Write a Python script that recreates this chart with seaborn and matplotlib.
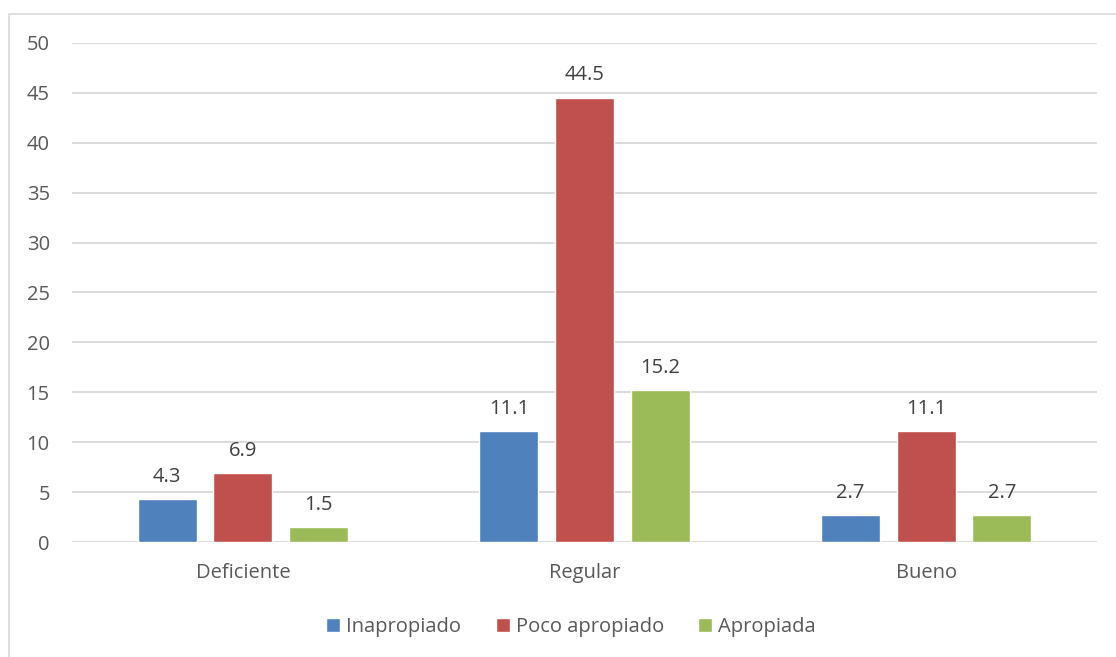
import pandas as pd
import matplotlib
matplotlib.use('Agg')
import matplotlib.pyplot as plt
import seaborn as sns
from matplotlib.patches import Rectangle

# Data
categories = ['Deficiente', 'Regular', 'Bueno']
series = ['Inapropiado', 'Poco apropiado', 'Apropiada']
inapropiado = [4.3, 11.1, 2.7]
poco_apropiado = [6.9, 44.5, 11.1]
apropiada = [1.5, 15.2, 2.7]

colors = ['#4F81BD', '#C0504D', '#9BBB59']
text_color = '#595959'

df = pd.DataFrame({
    'categoria': categories * 3,
    'serie': [s for s in series for _ in categories],
    'valor': inapropiado + poco_apropiado + apropiada,
})

sns.set_theme(style='white')
plt.rcParams['font.family'] = ['Open Sans', 'DejaVu Sans']

fig = plt.figure(figsize=(11.16, 6.57), dpi=100)
ax = fig.add_axes([0.0645, 0.175, 0.9185, 0.7596])

sns.barplot(data=df, x='categoria', y='valor', hue='serie', order=categories,
            hue_order=series, palette=colors, width=0.664, gap=0.218,
            saturation=1, ax=ax, legend=True)

for cont in ax.containers:
    ax.bar_label(cont, labels=[f'{v:.1f}' for v in cont.datavalues],
                 padding=9, fontsize=14.5, color='#404040')

ax.set_ylim(0, 50)
ax.set_yticks(range(0, 51, 5))
ax.set_xlim(-0.5, 2.5)
ax.grid(axis='y', color='#D9D9D9', linewidth=1.3)
ax.set_axisbelow(True)
for s in ax.spines.values():
    s.set_visible(False)
ax.tick_params(axis='both', length=0, labelsize=14.5, labelcolor=text_color)
ax.tick_params(axis='y', pad=16)
ax.tick_params(axis='x', pad=15)
ax.set_xlabel('')
ax.set_ylabel('')

handles, labels = ax.get_legend_handles_labels()
ax.legend(handles, labels, loc='center', bbox_to_anchor=(0.487, -0.171),
          ncol=3, frameon=False, fontsize=14.5, handlelength=0.7,
          handleheight=0.7, handletextpad=0.3, columnspacing=1.7,
          labelcolor=text_color)

# chart border (Excel-style frame)
fig.patches.append(Rectangle((9 / 1116, -0.05), 1.1, 1 - 14 / 657 + 0.05,
                             transform=fig.transFigure, fill=False,
                             edgecolor='#D9D9D9', linewidth=1.2))

fig.savefig('out.png', dpi=100)
